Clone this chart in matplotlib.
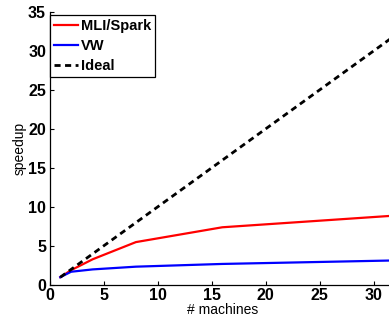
import matplotlib
matplotlib.use("Agg")
import matplotlib.pyplot as plt

machines = [1, 2, 4, 8, 16, 32]
mli_spark = [1.0, 1.9, 3.3, 5.5, 7.4, 8.9]
vw = [1.0, 1.7, 2.0, 2.35, 2.7, 3.15]
ideal_x = [1, 32]
ideal_y = [1, 32]

xticks = [0, 5, 10, 15, 20, 25, 30]
yticks = [0, 5, 10, 15, 20, 25, 30, 35]

plt.rcParams['font.family'] = ['Liberation Sans', 'DejaVu Sans']

fig = plt.figure(figsize=(3.89, 3.2), dpi=100)
ax = fig.add_axes([49.5 / 389, 35 / 320, 345.6 / 389, 273 / 320])

ax.plot(machines, mli_spark, color='#ff0000', lw=1.6, label='MLI/Spark')
ax.plot(machines, vw, color='#0000ff', lw=1.6, label='VW')
ax.plot(ideal_x, ideal_y, color='black', lw=2.0, ls=(0, (2.2, 1.6)), label='Ideal')

ax.set_xlim(0, 32)
ax.set_ylim(0, 35)
ax.set_xticks(xticks)
ax.set_yticks(yticks)
ax.tick_params(direction='in', length=3, width=0.8, labelsize=11.5, pad=2.5)
for lab in ax.get_xticklabels() + ax.get_yticklabels():
    lab.set_fontweight('bold')

for s in ('top', 'right'):
    ax.spines[s].set_visible(False)
for s in ('left', 'bottom'):
    ax.spines[s].set_linewidth(0.9)

ax.set_xlabel('# machines', fontsize=10, labelpad=0)
ax.set_ylabel('speedup', fontsize=10, labelpad=1)

leg = ax.legend(loc='upper left', bbox_to_anchor=(0.0, 1 - 3 / 273),
                borderaxespad=0, fancybox=False, framealpha=1,
                edgecolor='black', handlelength=1.65, handletextpad=0.2,
                borderpad=0.3, labelspacing=0.4,
                prop={'weight': 'bold', 'size': 10.5})
leg.get_frame().set_linewidth(0.9)

fig.savefig('out.png', dpi=100)
